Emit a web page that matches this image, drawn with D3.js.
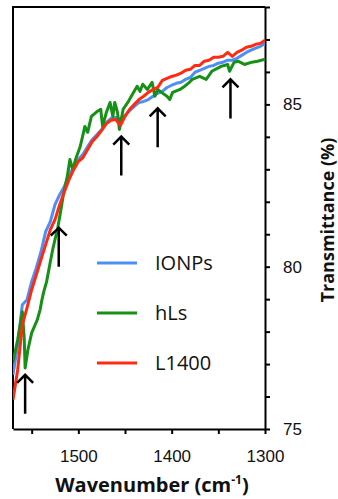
<!DOCTYPE html>
<html>
<head>
<meta charset="utf-8">
<script src="https://cdn.jsdelivr.net/npm/d3@7/dist/d3.min.js"></script>
<style>
  body { margin: 0; background: #fff; }
  svg { display: block; font-family: "Open Sans", sans-serif; }
  .axis path, .axis line { stroke: #000; stroke-width: 2; }
  .axis text { font-size: 17px; fill: #111; }
</style>
</head>
<body>
<div id="chart"></div>
<script>
// wavenumbers (cm-1) shared by the two smooth spectra
const wavenumbers = [1570, 1565, 1560, 1555, 1550, 1545, 1540, 1535, 1530, 1525, 1520, 1515, 1510, 1505,
  1500, 1495, 1490, 1485, 1480, 1475, 1470, 1465, 1460, 1455, 1450, 1445, 1440, 1435, 1430, 1425,
  1420, 1415, 1410, 1405, 1400, 1395, 1390, 1385, 1380, 1375, 1370, 1365, 1360, 1355, 1350, 1345,
  1340, 1335, 1330, 1325, 1320, 1315, 1310, 1305, 1300];

const ionps = [76.67, 77.59, 78.83, 78.98, 79.54, 79.97, 80.46, 81.08, 81.39, 81.91, 82.22, 82.47, 82.84, 83.06,
  83.30, 83.46, 83.70, 83.92, 84.07, 84.23, 84.44, 84.57, 84.60, 84.54, 84.66, 84.81, 84.94, 85.06, 85.09, 85.15,
  85.25, 85.34, 85.40, 85.52, 85.59, 85.65, 85.68, 85.77, 85.83, 85.99, 86.05, 86.11, 86.17, 86.20, 86.27, 86.30,
  86.36, 86.36, 86.42, 86.51, 86.60, 86.67, 86.73, 86.79, 86.88];

const l1400 = [75.90, 76.82, 78.21, 78.73, 79.29, 79.75, 80.22, 80.68, 81.14, 81.45, 81.91, 82.31, 82.68, 82.99,
  83.24, 83.36, 83.61, 83.86, 84.01, 84.20, 84.41, 84.51, 84.54, 84.35, 84.63, 84.85, 85.00, 85.15, 85.25, 85.37,
  85.46, 85.52, 85.74, 85.80, 85.86, 85.90, 85.96, 86.05, 86.08, 86.20, 86.20, 86.33, 86.36, 86.45, 86.45, 86.48,
  86.60, 86.48, 86.60, 86.67, 86.76, 86.79, 86.85, 86.88, 86.98];

// hLs is noisier, so it gets its own sampling
const hlsWavenumbers = [1570, 1565, 1560, 1558, 1557, 1554, 1550, 1544, 1541, 1539, 1537, 1534, 1530, 1527,
  1524, 1522, 1519, 1516, 1512, 1509, 1506, 1503, 1498, 1495, 1493, 1490, 1486, 1480, 1476, 1474, 1470,
  1466, 1463, 1461, 1458, 1456, 1452, 1447, 1442, 1437, 1434, 1431, 1426, 1421, 1418, 1415, 1411, 1405,
  1402, 1399, 1391, 1386, 1381, 1378, 1370, 1363, 1357, 1347, 1340, 1338, 1333, 1329, 1322, 1314, 1308, 1300];

const hls = [77.07, 77.75, 78.61, 77.81, 76.88, 77.44, 77.96, 78.36, 78.67, 78.98, 79.23, 79.54, 80.15, 80.59,
  80.96, 81.20, 81.70, 82.22, 82.75, 83.30, 82.99, 83.30, 83.70, 84.07, 84.32, 84.14, 84.63, 84.78, 84.85, 84.32, 84.75,
  85.06, 84.63, 85.06, 84.75, 84.23, 84.85, 85.06, 85.31, 85.56, 85.40, 85.62, 85.46, 85.68, 85.25, 85.46, 85.37, 85.25,
  85.15, 85.37, 85.46, 85.56, 85.68, 85.77, 85.86, 85.77, 86.02, 86.17, 86.23, 86.02, 86.30, 86.33, 86.23, 86.30, 86.33, 86.39];

// arrows mark the bands: wavenumber and transmittance at the arrow tip
const arrowWavenumbers = [1557, 1521, 1454, 1415, 1337];
const arrowTips = [76.67, 81.20, 84.01, 84.88, 85.77];

const seriesNames = ['IONPs', 'hLs', 'L1400'];
const seriesColors = ['#4d8ff5', '#169016', '#ff2a10'];

const xTicks = [1550, 1500, 1450, 1400, 1350, 1300];
const xTickLabels = [1500, 1400, 1300];
const yTicks = [75, 76, 77, 78, 79, 80, 81, 82, 83, 84, 85, 86, 87, 88];
const yTickLabels = [75, 80, 85];

const width = 338, height = 499;
const margin = { top: 7, right: 73, bottom: 70, left: 13 };

const svg = d3.select('#chart')
  .append('svg')
  .attr('width', width)
  .attr('height', height);

const x = d3.scaleLinear().domain([1570, 1300]).range([margin.left, width - margin.right]);
const y = d3.scaleLinear().domain([75, 88]).range([height - margin.bottom, margin.top]);

// frame: top and left edges
svg.append('path')
  .attr('d', `M${x(1570)},${y(75)}V${y(88)}H${x(1300)}`)
  .attr('fill', 'none')
  .attr('stroke', '#000')
  .attr('stroke-width', 2);

svg.append('g')
  .attr('class', 'axis')
  .attr('transform', `translate(0,${y(75)})`)
  .call(d3.axisBottom(x).tickValues(xTicks).tickSize(5).tickSizeOuter(0).tickPadding(16)
    .tickFormat(d => xTickLabels.includes(d) ? d : ''));

svg.append('g')
  .attr('class', 'axis')
  .attr('transform', `translate(${x(1300)},0)`)
  .call(d3.axisRight(y).tickValues(yTicks).tickSize(5).tickSizeOuter(0).tickPadding(13)
    .tickFormat(d => yTickLabels.includes(d) ? d : ''));

// spectra
const table = [
  { name: seriesNames[0], color: seriesColors[0], points: wavenumbers.map((w, i) => [w, ionps[i]]) },
  { name: seriesNames[1], color: seriesColors[1], points: hlsWavenumbers.map((w, i) => [w, hls[i]]) },
  { name: seriesNames[2], color: seriesColors[2], points: wavenumbers.map((w, i) => [w, l1400[i]]) }
];

const line = d3.line().x(d => x(d[0])).y(d => y(d[1]));

svg.append('defs').append('clipPath').attr('id', 'plot')
  .append('rect')
  .attr('x', x(1570)).attr('y', y(88))
  .attr('width', x(1300) - x(1570)).attr('height', y(75) - y(88));

svg.append('g')
  .attr('clip-path', 'url(#plot)')
  .selectAll('path')
  .data(table)
  .enter()
  .append('path')
  .attr('d', d => line(d.points))
  .attr('fill', 'none')
  .attr('stroke', d => d.color)
  .attr('stroke-width', 3)
  .attr('stroke-linejoin', 'round');

// arrows
const arrowLen = 39, head = 8;
const arrows = svg.selectAll('.arrow')
  .data(arrowWavenumbers.map((w, i) => [w, arrowTips[i]]))
  .enter()
  .append('path')
  .attr('class', 'arrow')
  .attr('d', d => {
    const ax = x(d[0]), ay = y(d[1]);
    return `M${ax},${ay + arrowLen}V${ay}M${ax - head},${ay + head}L${ax},${ay}L${ax + head},${ay + head}`;
  })
  .attr('fill', 'none')
  .attr('stroke', '#000')
  .attr('stroke-width', 2.5);

// legend
const legend = svg.selectAll('.legend')
  .data(table)
  .enter()
  .append('g')
  .attr('class', 'legend')
  .attr('transform', (d, i) => `translate(97,${263 + i * 50})`);

legend.append('line').attr('x1', 0).attr('x2', 40)
  .attr('stroke', d => d.color).attr('stroke-width', 3);
legend.append('text').attr('x', 58).attr('dy', '0.35em')
  .attr('font-size', 20).attr('fill', '#111')
  .text(d => d.name);

// axis titles
const xTitle = svg.append('text')
  .attr('x', (x(1570) + x(1300)) / 2 + 13)
  .attr('y', 492)
  .attr('text-anchor', 'middle')
  .attr('font-size', 20)
  .attr('font-weight', 'bold')
  .attr('fill', '#111');
xTitle.append('tspan').text('Wavenumber (cm');
xTitle.append('tspan').attr('font-size', 12).attr('dy', -8).text('-1');
xTitle.append('tspan').attr('dy', 8).text(')');

svg.append('text')
  .attr('transform', `translate(334,220) rotate(-90)`)
  .attr('text-anchor', 'middle')
  .attr('font-size', 18)
  .attr('font-weight', 'bold')
  .attr('fill', '#111')
  .text('Transmittance (%)');
</script>
</body>
</html>
